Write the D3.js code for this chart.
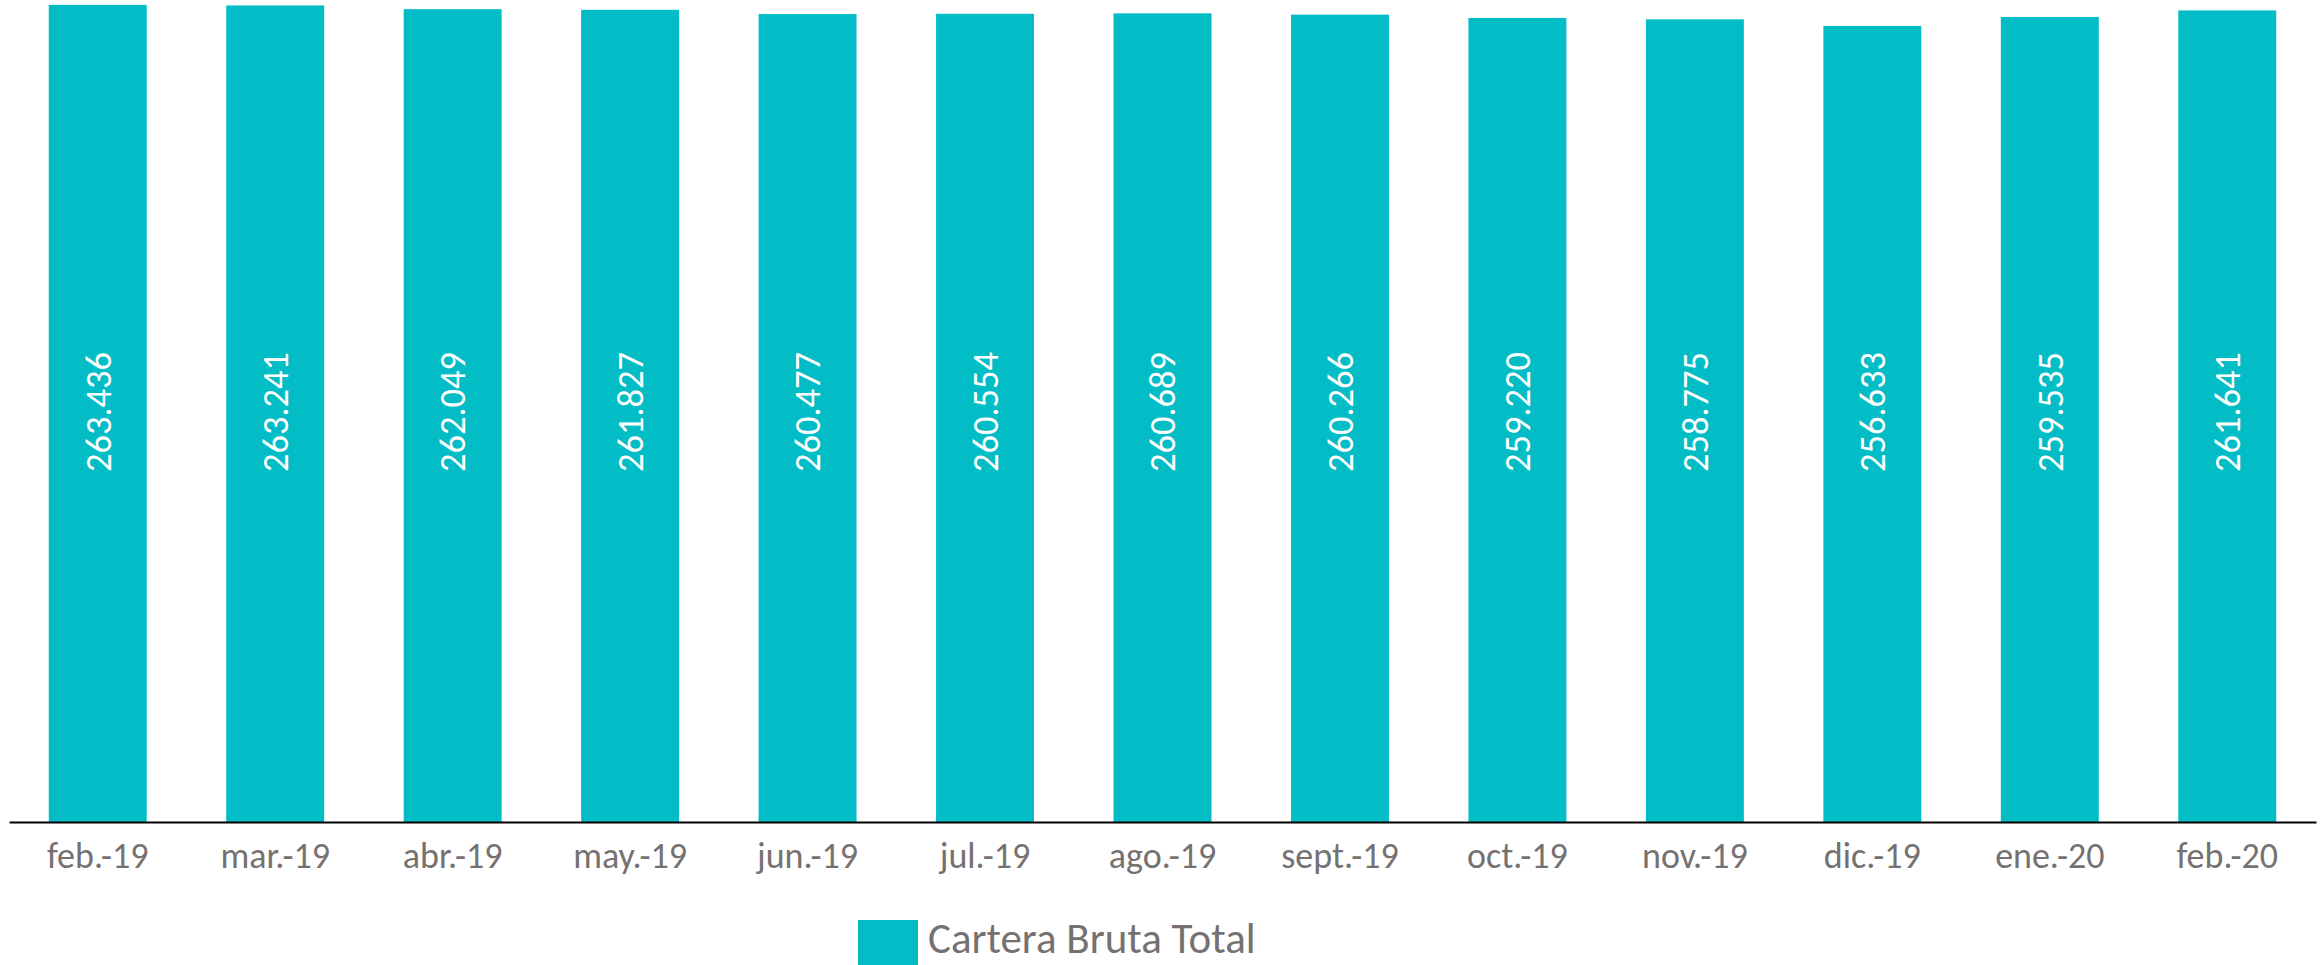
<!DOCTYPE html>
<html>
<head>
<meta charset="utf-8">
<script src="https://cdn.jsdelivr.net/npm/d3@7"></script>
<style>
  body { margin: 0; background: #fff; }
  text { font-family: Carlito, Calibri, "Open Sans", sans-serif; }
</style>
</head>
<body>
<div id="chart"></div>
<script>
// data
var months = ["feb.-19", "mar.-19", "abr.-19", "may.-19", "jun.-19", "jul.-19", "ago.-19",
              "sept.-19", "oct.-19", "nov.-19", "dic.-19", "ene.-20", "feb.-20"];
var cartera = [263436, 263241, 262049, 261827, 260477, 260554, 260689,
               260266, 259220, 258775, 256633, 259535, 261641];
var seriesName = "Cartera Bruta Total";

var W = 2323, H = 965;
var margin = {top: 0, right: 7, bottom: 143, left: 9},
    width = W - margin.left - margin.right,
    height = H - margin.top - margin.bottom;

var barColor = "#03bdc6",
    textColor = "#767171";

var svg = d3.select("#chart")
  .append("svg")
    .attr("width", W)
    .attr("height", H)
  .append("g")
    .attr("transform", "translate(" + margin.left + "," + margin.top + ")");

// X axis: band scale
var x = d3.scaleBand()
    .domain(months)
    .range([0, width])
    .paddingInner(0.448)
    .paddingOuter(0.224);

// Y axis: linear from zero
var y = d3.scaleLinear()
    .domain([0, 265000])
    .range([height, 0]);

// format with dot as thousands separator
var fmt = d3.formatLocale({decimal: ",", thousands: ".", grouping: [3], currency: ["", ""]}).format(",d");

var data = months.map(function(m, i) { return {month: m, value: cartera[i]}; });

svg.selectAll("rect.bar")
    .data(data)
    .enter()
    .append("rect")
      .attr("class", "bar")
      .attr("x", function(d) { return x(d.month); })
      .attr("y", function(d) { return y(d.value); })
      .attr("width", x.bandwidth())
      .attr("height", function(d) { return height - y(d.value); })
      .style("fill", barColor);

// value labels, rotated, centred in bar
svg.selectAll("text.val")
    .data(data)
    .enter()
    .append("text")
      .attr("class", "val")
      .attr("transform", function(d) {
        return "translate(" + (x(d.month) + x.bandwidth() / 2) + "," + (height / 2 + 1) + ") rotate(-90)";
      })
      .attr("text-anchor", "middle")
      .attr("dy", "0.35em")
      .style("fill", "#fff")
      .style("font-size", "36.5px")
      .text(function(d) { return fmt(d.value); });

// bottom axis
var xAxis = svg.append("g")
    .attr("transform", "translate(0," + height + ")")
    .call(d3.axisBottom(x).tickSize(0).tickPadding(20));

xAxis.select(".domain")
    .attr("stroke", "#000")
    .attr("stroke-width", 2);

xAxis.selectAll(".tick text")
    .style("font-size", "36px")
    .style("fill", textColor);

// legend
var legend = svg.append("g")
    .attr("transform", "translate(" + (858 - margin.left) + ",920)");

legend.append("rect")
    .attr("width", 60)
    .attr("height", 45)
    .style("fill", barColor);

legend.append("text")
    .attr("x", 70)
    .attr("y", 33)
    .style("font-size", "43px")
    .style("fill", textColor)
    .text(seriesName);
</script>
</body>
</html>
